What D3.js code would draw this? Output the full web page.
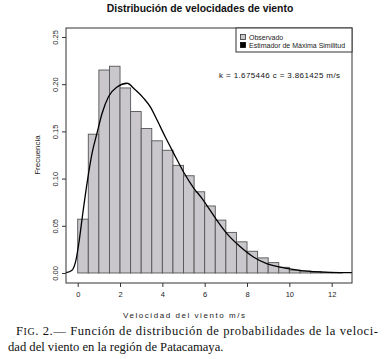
<!DOCTYPE html>
<html><head><meta charset="utf-8">
<script src="https://cdn.jsdelivr.net/npm/d3@7"></script>
<style>body{margin:0;background:#fff}svg{display:block}</style>
</head><body>
<script>
// ---- data ----
const binStarts = [0,0.5,1,1.5,2,2.5,3,3.5,4,4.5,5,5.5,6,6.5,7,7.5,8,8.5,9,9.5,10,10.5,11,11.5,12];
const binWidth = 0.5;
const density = [0.057,0.147,0.215,0.219,0.196,0.171,0.153,0.140,0.130,0.114,0.103,0.086,0.071,0.056,0.043,0.033,0.023,0.016,0.011,0.006,0.003,0.002,0.0012,0.0007,0.0003];
const curveX = [-0.55,-0.27,-0.08,0.05,0.24,0.44,0.68,0.91,1.15,1.46,1.86,2.33,2.72,3.12,3.43,3.75,4.14,4.53,5.0,5.48,5.87,6.09,6.57,7.04,7.67,8.3,8.93,9.87,11.13,12.96];
const curveY = [0.0003,0.003,0.014,0.031,0.063,0.095,0.127,0.148,0.169,0.187,0.197,0.201,0.194,0.185,0.176,0.162,0.144,0.127,0.107,0.090,0.079,0.072,0.056,0.042,0.028,0.017,0.010,0.005,0.0015,0.0003];
const xTicks = [0,2,4,6,8,10,12];
const yTicks = [0,0.05,0.10,0.15,0.20,0.25];
const yTickLabels = ["0.00","0.05","0.10","0.15","0.20","0.25"];
const title = "Distribución de velocidades de viento";
const xLabel = "Velocidad del viento   m/s";
const yLabel = "Frecuencia";
const legendItems = ["Observado","Estimador de Máxima Similitud"];
const annotation = "k = 1.675446  c = 3.861425 m/s";
const caption1 = ["F","IG",". 2.— Función de distribución de probabilidades de la veloci-"];
const caption2 = "dad del viento en la región de Patacamaya.";

// ---- layout ----
const W = 385, H = 359;
const L = 66, R = 352, T = 28, B = 283;
const svg = d3.select("body").append("svg").attr("width", W).attr("height", H);
const x = d3.scaleLinear().domain([-0.553, 12.96]).range([L, R]);
const y = d3.scaleLinear().domain([-0.0106, 0.2595]).range([B, T]);
const sans = "'Liberation Sans', Arial, sans-serif";

// bars
svg.append("g").selectAll("rect").data(binStarts).join("rect")
  .attr("x", (d) => x(d))
  .attr("width", (d) => x(d + binWidth) - x(d))
  .attr("y", (d, i) => y(density[i]))
  .attr("height", (d, i) => y(0) - y(density[i]))
  .attr("fill", "#c9c7cb")
  .attr("stroke", "#555")
  .attr("stroke-width", 0.9);

// curve
const line = d3.line().x((d, i) => x(curveX[i])).y((d, i) => y(curveY[i])).curve(d3.curveMonotoneX);
svg.append("path").datum(curveX).attr("d", line)
  .attr("fill", "none").attr("stroke", "#000").attr("stroke-width", 1.3);

// plot box
svg.append("rect").attr("x", L).attr("y", T).attr("width", R - L).attr("height", B - T)
  .attr("fill", "none").attr("stroke", "#333").attr("stroke-width", 1);

// x axis
const xAxis = svg.append("g").attr("transform", `translate(0,${B})`)
  .call(d3.axisBottom(x).tickValues(xTicks).tickSize(4).tickPadding(5).tickFormat(d3.format("d")));
xAxis.select(".domain").remove();
xAxis.selectAll("line").attr("stroke", "#333");
xAxis.selectAll("text").attr("font-family", sans).attr("font-size", 7.5).attr("fill", "#222");

// y axis
const yAxis = svg.append("g").attr("transform", `translate(${L},0)`)
  .call(d3.axisLeft(y).tickValues(yTicks).tickSize(4).tickFormat((d, i) => yTickLabels[i]));
yAxis.select(".domain").remove();
yAxis.selectAll("line").attr("stroke", "#333");
yAxis.selectAll(".tick text")
  .attr("font-family", sans).attr("font-size", 7.5).attr("fill", "#222")
  .attr("x", null).attr("y", 0)
  .attr("text-anchor", "middle")
  .attr("transform", "translate(-11,0) rotate(-90)").attr("dy", "0.35em");

// title
svg.append("text").attr("x", 200).attr("y", 12).attr("text-anchor", "middle")
  .attr("font-family", sans).attr("font-weight", "bold").attr("font-size", 10.4).attr("fill", "#111")
  .text(title);

// axis labels
svg.append("text").attr("x", 123).attr("y", 318)
  .attr("font-family", sans).attr("font-size", 8).attr("fill", "#222")
  .attr("textLength", 122).attr("lengthAdjust", "spacing")
  .text(xLabel);
svg.append("text").attr("transform", `translate(40,155) rotate(-90)`).attr("text-anchor", "middle")
  .attr("font-family", sans).attr("font-size", 8).attr("fill", "#222")
  .text(yLabel);

// legend
const lg = svg.append("g");
lg.append("rect").attr("x", 236).attr("y", T).attr("width", R - 236).attr("height", 24)
  .attr("fill", "#fff").attr("stroke", "#333").attr("stroke-width", 1);
legendItems.forEach((t, i) => {
  const yy = 37 + i * 8;
  lg.append("rect").attr("x", 240.5).attr("y", yy - 2.5).attr("width", 5).attr("height", 5)
    .attr("fill", i === 0 ? "#c9c7cb" : "#000").attr("stroke", i === 0 ? "#333" : "#000").attr("stroke-width", 0.8);
  lg.append("text").attr("x", 249).attr("y", yy + 2.5)
    .attr("font-family", sans).attr("font-size", 7).attr("fill", "#222").text(t);
});

// annotation
svg.append("text").attr("x", 219).attr("y", 78)
  .attr("font-family", sans).attr("font-size", 8).attr("fill", "#111")
  .attr("textLength", 121).attr("lengthAdjust", "spacing")
  .text(annotation);

// caption
const serif = "'Liberation Serif', 'DejaVu Serif', serif";
const c1 = svg.append("text").attr("x", 16).attr("y", 335)
  .attr("font-family", serif).attr("font-size", 12.6).attr("fill", "#111")
  .attr("textLength", 362).attr("lengthAdjust", "spacing");
c1.append("tspan").text(caption1[0]);
c1.append("tspan").attr("font-size", 10).text(caption1[1]);
c1.append("tspan").text(caption1[2]);
svg.append("text").attr("x", 8).attr("y", 351)
  .attr("font-family", serif).attr("font-size", 12.6).attr("fill", "#111")
  .text(caption2);
</script>
</body></html>
